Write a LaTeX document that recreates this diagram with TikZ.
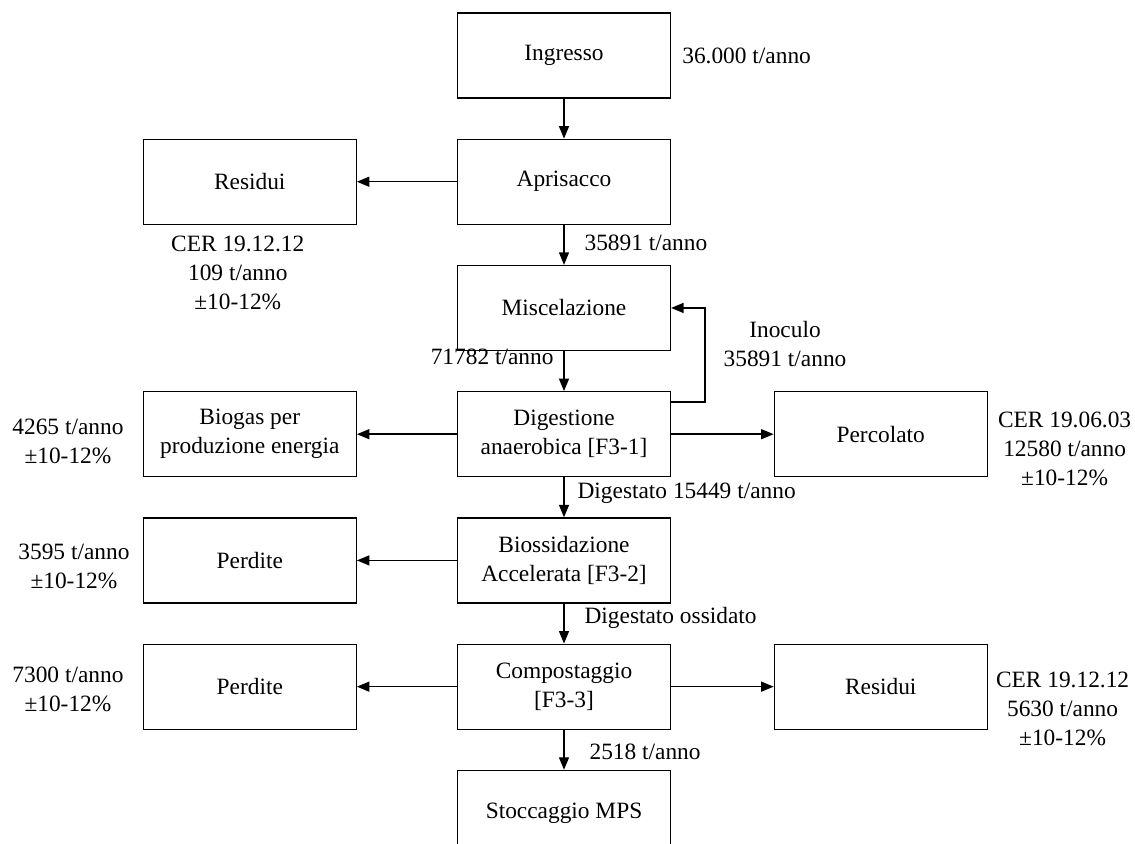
\documentclass[tikz,border=0pt]{standalone}
\usepackage{fontspec}
\setmainfont{Liberation Serif}
\usetikzlibrary{arrows.meta, positioning}

\begin{document}
\begin{tikzpicture}[
    node distance=0.8cm,
    font=\fontsize{13.3}{16.5}\selectfont,
    block/.style={rectangle, draw=black, line width=0.7pt, minimum width=4.26cm, minimum height=1.7cm, text centered, align=center, inner sep=2pt},
    note/.style={align=center},
    line/.style={draw=black, line width=0.8pt, -{Triangle[length=2.5mm, width=2mm]}}
]
    \useasboundingbox (0,0) rectangle (22.7,-16.86);
    \clip (0,0) rectangle (22.7,-16.86);

    % colonna centrale
    \node [block] (ing) at (11.28,-1.11) {Ingresso};
    \node [block, below=of ing] (apr) {Aprisacco};
    \node [block, below=of apr] (mix) {Miscelazione};
    \node [block, below=of mix] (dig) {Digestione\\anaerobica [F3-1]};
    \node [block, below=of dig] (bio) {Biossidazione\\Accelerata [F3-2]};
    \node [block, below=of bio] (comp) {Compostaggio\\{[F3-3]}};
    \node [block, below=of comp] (mps) {Stoccaggio MPS};

    % uscite laterali
    \node [block, left=2.0cm of apr] (res1) {Residui};
    \node [block, left=2.0cm of dig] (gas) {Biogas per\\produzione energia};
    \node [block, right=2.05cm of dig] (perc) {Percolato};
    \node [block, left=2.0cm of bio] (loss1) {Perdite};
    \node [block, left=2.0cm of comp] (loss2) {Perdite};
    \node [block, right=2.05cm of comp] (res2) {Residui};

    % quantita
    \node [note, right=0.1cm of ing] (qing) {36.000 t/anno};
    \node [note, below=0.1cm of res1, xshift=-0.24cm] (qres1) {CER 19.12.12\\109 t/anno\\±10-12\%};
    \node [note, left=0.26cm of gas, yshift=-0.15cm] (qgas) {4265 t/anno\\±10-12\%};
    \node [note, right=0.08cm of perc, yshift=-0.3cm] (qperc) {CER 19.06.03\\12580 t/anno\\±10-12\%};
    \node [note, left=0.14cm of loss1, yshift=-0.11cm] (qloss1) {3595 t/anno\\±10-12\%};
    \node [note, left=0.26cm of loss2, yshift=-0.05cm] (qloss2) {7300 t/anno\\±10-12\%};
    \node [note, right=0.04cm of res2, yshift=-0.44cm] (qres2) {CER 19.12.12\\5630 t/anno\\±10-12\%};

    \path [line] (ing) -- (apr);
    \path [line] (apr) -- (res1);
    \path [line] (apr) -- node[pos=0.44, right=0.28cm] {35891 t/anno} (mix);
    \path [line] (mix) -- node[pos=0.15, left=0.08cm] {71782 t/anno} (dig);
    \path [line] (dig) -- (gas);
    \path [line] (dig) -- (perc);
    \path [line] (dig) -- node[pos=0.41, right=0.14cm] {Digestato 15449 t/anno} (bio);
    \path [line] (bio) -- (loss1);
    \path [line] (bio) -- node[pos=0.36, right=0.28cm] {Digestato ossidato} (comp);
    \path [line] (comp) -- (loss2);
    \path [line] (comp) -- (res2);
    \path [line] (comp) -- node[pos=0.55, right=0.38cm] {2518 t/anno} (mps);
    \draw [line] ([yshift=-0.22cm]dig.north east) -- ++(0.68cm,0) |- node[pos=0.31, right=0.24cm, align=center] {Inoculo\\35891 t/anno} (mix.east);

\end{tikzpicture}
\end{document}
